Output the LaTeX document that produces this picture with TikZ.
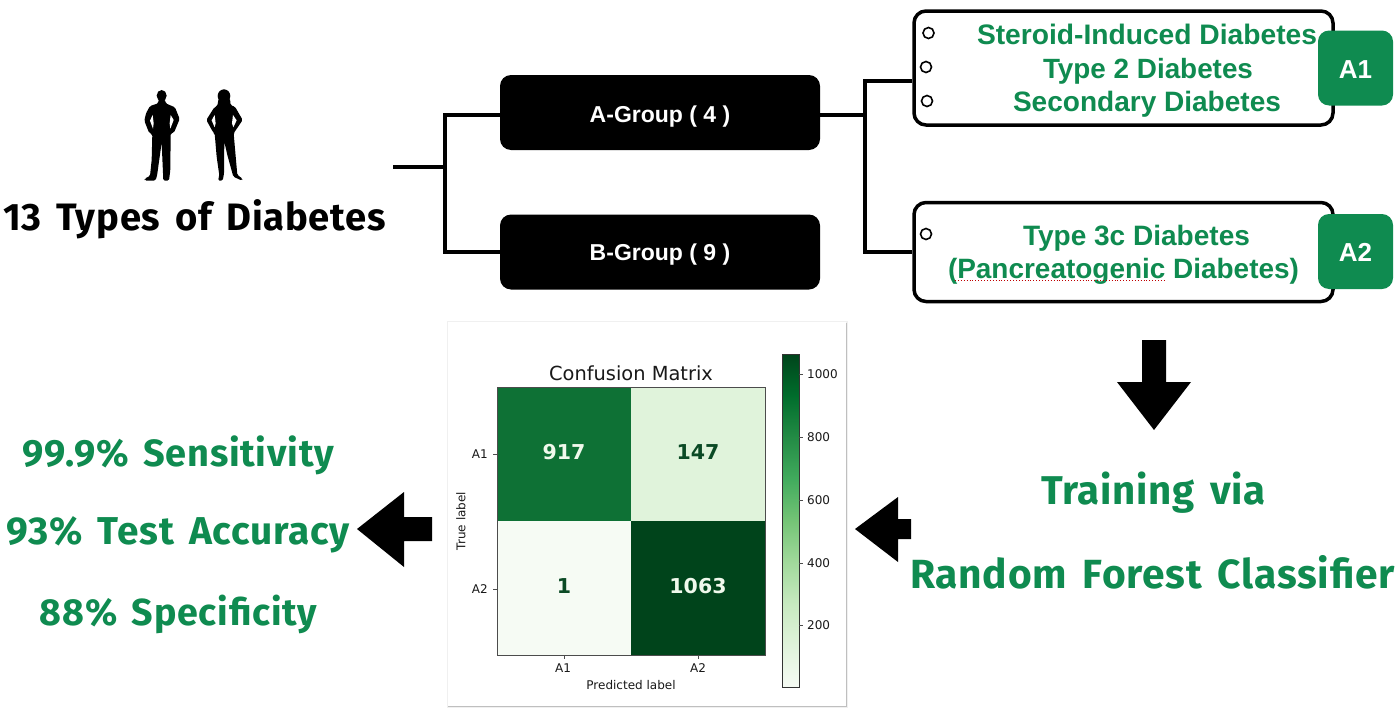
\documentclass[tikz,border=0pt]{standalone}
\usepackage{fontspec}
\usepackage{graphicx}
\setmainfont{Liberation Sans}
\newfontfamily\comicfont[LetterSpace=2,WordSpace=1.5]{Fira Sans}
\newfontfamily\heavyfont{Liberation Sans}
\newfontfamily\mplfont{DejaVu Sans}
\definecolor{gr}{HTML}{0F8B50}
\definecolor{cellA}{HTML}{0E7135}
\definecolor{cellB}{HTML}{E0F3DB}
\definecolor{cellC}{HTML}{F6FBF4}
\definecolor{cellD}{HTML}{00441B}
\definecolor{numdark}{HTML}{0B4A25}
\definecolor{numlight}{HTML}{F0F9EC}
\definecolor{gc}{HTML}{C7E9C0}
\definecolor{gd}{HTML}{A1D99B}
\definecolor{ge}{HTML}{74C476}
\definecolor{gf}{HTML}{41AB5D}
\definecolor{gg}{HTML}{238B45}
\definecolor{gh}{HTML}{006D2C}
\pgfdeclareverticalshading{greensbar}{100bp}{
 color(0bp)=(cellC);
 color(25bp)=(cellC);
 color(31.25bp)=(cellB);
 color(37.5bp)=(gc);
 color(43.75bp)=(gd);
 color(50bp)=(ge);
 color(56.25bp)=(gf);
 color(62.5bp)=(gg);
 color(68.75bp)=(gh);
 color(75bp)=(cellD);
 color(100bp)=(cellD)}
\newcommand\fitw[2]{\resizebox{#1pt}{!}{#2}}
\tikzset{
 tree/.style={line width=4pt,draw=black},
 group/.style={fill=black,rounded corners=11pt,minimum width=320pt,minimum height=75pt,inner sep=0pt},
 grouplabel/.style={anchor=base,text=white,inner sep=0pt,font=\bfseries\fontsize{23}{23}\selectfont},
 listbox/.style={draw=black,fill=white,line width=3.5pt,rounded corners=12pt,inner sep=0pt,minimum width=419pt},
 badge/.style={fill=gr,rounded corners=11pt,minimum width=75pt,minimum height=75pt,inner sep=0pt},
 badgetext/.style={anchor=base,text=white,inner sep=0pt,font=\heavyfont\bfseries\fontsize{26}{26}\selectfont},
 bullet/.style={circle,draw=black,fill=white,line width=1.6pt,minimum size=11pt,inner sep=0pt},
 listtext/.style={anchor=base,text=gr,inner sep=0pt,font=\heavyfont\bfseries\fontsize{29}{29}\selectfont},
 comic/.style={anchor=base,text=gr,inner sep=0pt,font=\comicfont\bfseries\fontsize{40}{40}\selectfont},
 blockarrow/.style={fill=black,draw=none},
 cell/.style={minimum width=134pt,minimum height=134pt,inner sep=0pt},
 cellnum/.style={anchor=base,inner sep=0pt,font=\mplfont\bfseries\fontsize{20.5}{20.5}\selectfont},
 mpl/.style={inner sep=0pt,text=black!90,font=\mplfont\fontsize{12}{12}\selectfont},
 axisline/.style={draw=black!70,line width=1pt},
}
\begin{document}
\begin{tikzpicture}[x=1pt,y=-1pt]
\useasboundingbox (0,0) rectangle (1400,720);
\fill[white] (0,0) rectangle (1400,720);

% silhouettes
\begin{scope}[shift={(100,70)},x=0.3333pt,y=-0.3333pt]
 \fill[black] (185,77) ellipse (15 and 17);
 \fill[black,rounded corners=1.5pt] (175,88)--(175,100)--(150,108)--(138,130)--(133,152)--(147,188)--(157,193)--(155,270)--(150,318)--(134,326)--(134,332)--(166,332)--(171,318)--(185,218)--(190,332)--(207,332)--(211,300)--(212,190)--(222,188)--(239,147)--(225,112)--(197,100)--(195,88)--cycle;
 \fill[white] (158,135)--(150,152)--(159,176)--(161,160)--cycle;
 \fill[white] (212,135)--(221,150)--(211,176)--(209,160)--cycle;
 \fill[black] (372,78) ellipse (19 and 20);
 \fill[black,rounded corners=1.5pt] (356,85)--(352,108)--(343,112)--(319,150)--(340,188)--(344,190)--(350,260)--(358,316)--(354,332)--(368,332)--(372,312)--(373,215)--(382,255)--(400,320)--(426,332)--(428,326)--(412,315)--(401,190)--(428,150)--(405,110)--(392,106)--(390,85)--cycle;
 \fill[white] (344,135)--(335,151)--(344,172)--(347,160)--cycle;
 \fill[white] (399,135)--(410,151)--(400,172)--(396,160)--cycle;
\end{scope}

\node[comic,text=black] (title) at (194.5,230) {\fitw{383}{13 Types of Diabetes}};

% groups
\node[group] (agroup) at (660,112.5) {};
\node[group] (bgroup) at (660,252) {};
\node[grouplabel] (agrouptext) at (660,122) {A-Group ( 4 )};
\node[grouplabel] (bgrouptext) at (660,260) {B-Group ( 9 )};

% list boxes
\node[listbox,minimum height=114pt] (aone) at (1123.5,68) {};
\node[listbox,minimum height=99pt] (atwo) at (1123.5,252) {};
\node[badge] (bone) at (1355.5,68) {};
\node[badge] (btwo) at (1355.5,251.5) {};
\node[badgetext] (bonetext) at (1355.5,78) {A1};
\node[badgetext] (btwotext) at (1355.5,261) {A2};

% tree connectors
\coordinate (rootend) at (393,167);
\coordinate (splitleft) at (445,167);
\coordinate (splitright) at (865,115);
\draw[tree] (rootend) -- (splitleft);
\draw[tree] (agroup.west |- 0,115) -| (splitleft) |- (bgroup.west);
\draw[tree] (agroup.east |- splitright) -- (splitright);
\draw[tree] (aone.west |- 0,81) -| (splitright) |- (atwo.west);

\node[bullet] (ba) at (928.5,33) {};
\node[bullet] (bb) at (926,67) {};
\node[bullet] (bc) at (927,101) {};
\node[bullet] (bd) at (926,234) {};

\node[listtext] (ta) at (1147,44) {\fitw{340}{Steroid-Induced Diabetes}};
\node[listtext] (tb) at (1148,78) {\fitw{210}{Type 2 Diabetes}};
\node[listtext] (tc) at (1147,111) {\fitw{268}{Secondary Diabetes}};
\node[listtext] (td) at (1136.5,245) {\fitw{227}{Type 3c Diabetes}};
\node[listtext] (te) at (1123.5,278.5) {\fitw{351}{(Pancreatogenic Diabetes)}};
\draw[red!75!black,line width=0.9pt,dotted] (955,280.5) -- (1166,280.5);

% block arrows
\fill[blockarrow] (1142,340)--(1166,340)--(1166,382)--(1191,382)--(1154,430)--(1117,382)--(1142,382)--cycle;
\fill[blockarrow] (911,519)--(898,519)--(898,497)--(855,529)--(898,562)--(898,539)--(911,539)--cycle;
\fill[blockarrow] (432,517)--(404,517)--(404,492)--(357,529)--(404,567)--(404,541)--(432,541)--cycle;

% green texts
\node[comic] (sens) at (178.5,466) {\fitw{311}{99.9\% Sensitivity}};
\node[comic] (acc) at (178.5,544) {\fitw{343}{93\% Test Accuracy}};
\node[comic] (spec) at (178.5,625) {\fitw{277}{88\% Specificity}};
\node[comic] (train) at (1153.5,504) {\fitw{225}{Training via}};
\node[comic] (rf) at (1152.5,588) {\fitw{485}{Random Forest Classifier}};

% confusion matrix panel
\fill[black!6] (446.5,321) rectangle (848,708);
\fill[black!25] (447.5,323) rectangle (847,707);
\fill[white] (448,322) rectangle (846,706);
\node[cell,fill=cellA] (ca) at (564,454) {};
\node[cell,fill=cellB] (cb) at (698,454) {};
\node[cell,fill=cellC] (cc) at (564,588) {};
\node[cell,fill=cellD] (cd) at (698,588) {};
\draw[axisline] (497,387) rectangle (765,655);
\node[cellnum,text=numlight] (na) at (564,459) {917};
\node[cellnum,text=numdark] (nb) at (698,459) {147};
\node[cellnum,text=numdark] (nc) at (564,593) {1};
\node[cellnum,text=numlight] (nd) at (698,593) {1063};
\node[anchor=base,inner sep=0pt,text=black!90,font=\mplfont\fontsize{19.4}{19.4}\selectfont] (cmtitle) at (631,380) {Confusion Matrix};
% ticks
\draw[axisline] (493,454) -- (497,454);
\draw[axisline] (493,589) -- (497,589);
\draw[axisline] (564,655) -- (564,659);
\draw[axisline] (698,655) -- (698,659);
\node[mpl,anchor=east] (ya) at (488,454) {A1};
\node[mpl,anchor=east] (yb) at (488,589) {A2};
\node[mpl] (xa) at (563,668) {A1};
\node[mpl] (xb) at (698,668) {A2};
\node[mpl] (xl) at (631,685.5) {Predicted label};
\node[mpl,rotate=90] (yl) at (461,521) {True label};
% colour bar
\shade[shading=greensbar] (782,354) rectangle (799,687);
\draw[draw=black!80,line width=1pt] (782,354) rectangle (799,687);
\foreach \yy/\lab in {374/1000,437/800,500/600,563/400,625/200}{
 \draw[axisline] (799,\yy) -- (803,\yy);
 \node[mpl,anchor=west] (tick\lab) at (807,\yy) {\lab};
}
\end{tikzpicture}
\end{document}
